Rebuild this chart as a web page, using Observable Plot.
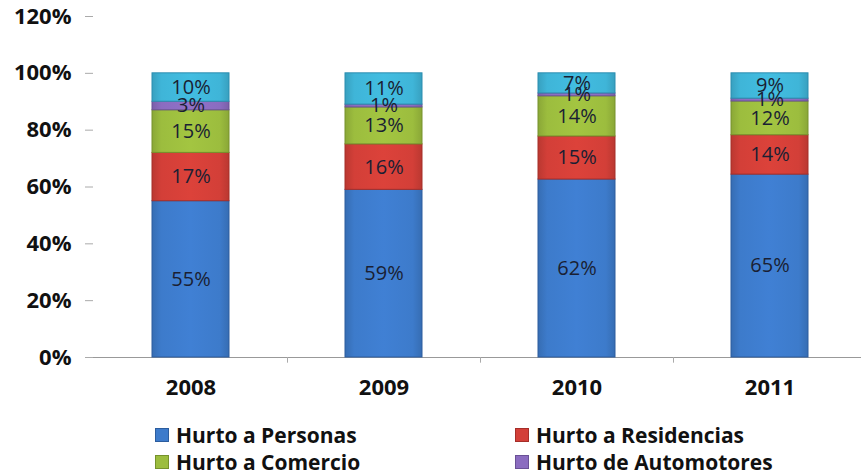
<!DOCTYPE html>
<html>
<head>
<meta charset="utf-8">
<script src="https://cdn.jsdelivr.net/npm/d3@7"></script>
<script src="https://cdn.jsdelivr.net/npm/@observablehq/plot@0.6"></script>
<style>
  body { margin: 0; background: #fff; font-family: "Open Sans", "Liberation Sans", sans-serif; }
  #chart svg { display: block; }
  .legend { position: relative; height: 70px; font-weight: bold; font-size: 21px; color: #111; }
  .legend .item { position: absolute; display: flex; align-items: center; white-space: nowrap; height: 24px; }
  .legend .sw { width: 14px; height: 14px; margin-right: 7px; box-sizing: border-box; }
</style>
</head>
<body>
<div id="chart"></div>
<div class="legend" id="legend"></div>
<script>
const years = ["2008", "2009", "2010", "2011"];
const seriesNames = ["Hurto a Personas", "Hurto a Residencias", "Hurto a Comercio", "Hurto de Automotores", "Otros"];
const personas = [55, 59, 62, 65];
const residencias = [17, 16, 15, 14];
const comercio = [15, 13, 14, 12];
const automotores = [3, 1, 1, 1];
const otros = [10, 11, 7, 9];
const colors = ["#3d7bcb", "#d33f38", "#9cbd3e", "#8b6cc0", "#3fb5d8"];
const edgeColors = ["#2c5d9e", "#a52e29", "#76922c", "#6a5196", "#2a8db0"];
const yTicks = [0, 0.2, 0.4, 0.6, 0.8, 1.0, 1.2];
const legendNames = seriesNames.slice(0, 4);

const valueArrays = [personas, residencias, comercio, automotores, otros];
const data = [];
years.forEach((yr, i) => {
  seriesNames.forEach((s, j) => data.push({ year: yr, series: s, value: valueArrays[j][i] }));
});
const idx = s => seriesNames.indexOf(s);

const stackOpts = { x: "year", y: "value", z: "series", order: seriesNames, offset: "normalize" };

const plot = Plot.plot({
  width: 861,
  height: 405,
  marginLeft: 93,
  marginRight: 0,
  marginTop: 16,
  marginBottom: 48,
  style: { fontFamily: "'Open Sans', 'Liberation Sans', sans-serif", background: "#fff" },
  x: { domain: years, range: [94, 866], paddingInner: 0.6, paddingOuter: 0.3, align: 0.5, label: null },
  y: { domain: [0, 1.2], label: null },
  color: { type: "identity" },
  marks: [
    Plot.ruleY([0], { stroke: "#999", strokeWidth: 1.2 }),
    Plot.ruleX([0], { x1: 93, x2: 93, y1: -0.02, y2: 1.2, stroke: "#aaa" }),
    Plot.ruleX(years, { x: d => d, dx: 96.5, y1: -0.02, y2: 0, stroke: "#aaa" }),
    Plot.axisY({ ticks: yTicks, tickFormat: d3.format(".0%"), tickSize: 8, tickPadding: 14, stroke: "#aaa", fontSize: 22, fontWeight: "bold", fill: "#111" }),
    Plot.axisX({ tickSize: 0, tickPadding: 22, fontSize: 22, fontWeight: "bold", fill: "#111" }),
    Plot.barY(data, Plot.stackY({ ...stackOpts, fill: d => `url(#grad${idx(d.series)})`, stroke: d => edgeColors[idx(d.series)], strokeWidth: 1 })),
    Plot.text(data, Plot.stackY({ ...stackOpts, text: d => d.value + "%", fill: "#1a1f33", fontSize: 20 }))
  ]
});

// gradient definitions for the Excel-like bar shading
const svgNS = "http://www.w3.org/2000/svg";
const defs = document.createElementNS(svgNS, "defs");
colors.forEach((c, i) => {
  const g = document.createElementNS(svgNS, "linearGradient");
  g.setAttribute("id", "grad" + i);
  g.setAttribute("x1", "0"); g.setAttribute("x2", "1"); g.setAttribute("y1", "0"); g.setAttribute("y2", "0");
  const base = d3.color(c);
  const stops = [[0, base.darker(0.35)], [0.12, base], [0.5, base.brighter(0.12)], [0.88, base], [1, base.darker(0.35)]];
  stops.forEach(([o, col]) => {
    const s = document.createElementNS(svgNS, "stop");
    s.setAttribute("offset", o);
    s.setAttribute("stop-color", col.formatHex());
    g.appendChild(s);
  });
  defs.appendChild(g);
});
plot.insertBefore(defs, plot.firstChild);
document.getElementById("chart").appendChild(plot);

const legend = document.getElementById("legend");
const positions = [[155, 30], [515, 30], [155, 57], [515, 57]];
legendNames.forEach((name, i) => {
  const item = document.createElement("div");
  item.className = "item";
  item.style.left = positions[i][0] + "px";
  item.style.top = (positions[i][1] - 12) + "px";
  const sw = document.createElement("span");
  sw.className = "sw";
  sw.style.background = colors[i];
  sw.style.border = "1px solid " + edgeColors[i];
  const t = document.createElement("span");
  t.textContent = name;
  item.appendChild(sw);
  item.appendChild(t);
  legend.appendChild(item);
});
</script>
</body>
</html>
